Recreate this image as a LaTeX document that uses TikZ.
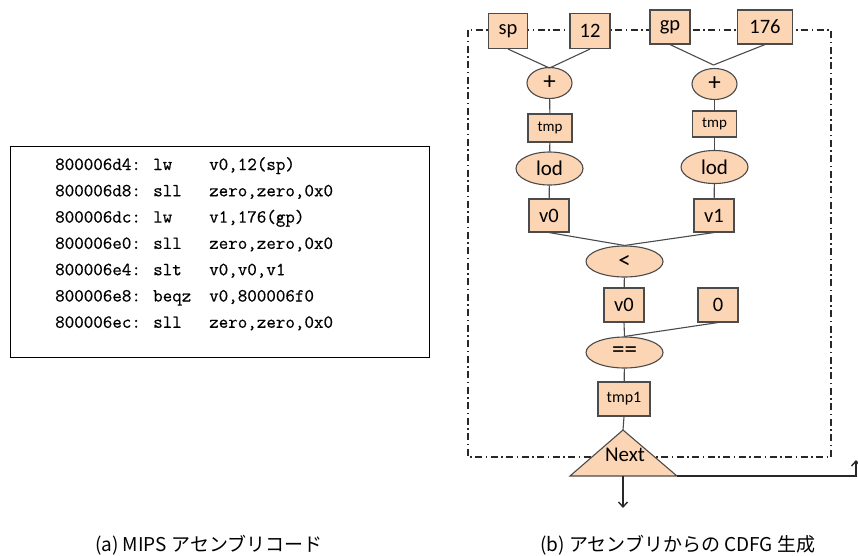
\documentclass[tikz,border=0pt]{standalone}
\usepackage{fontspec}
\setmainfont{Carlito}
\newfontfamily\cjk{Noto Sans CJK JP}
\newfontfamily\codefont[FakeBold=0.5]{Latin Modern Mono}
\usetikzlibrary{arrows.meta,shapes.geometric}
\definecolor{peach}{RGB}{252,213,181}
\definecolor{edgegray}{RGB}{75,75,75}
\definecolor{framegray}{RGB}{40,40,40}
\tikzset{
  vbox/.style={draw=edgegray, fill=peach, line width=1.1pt, inner sep=0pt,
               font=\fontsize{20.5}{20.5}\selectfont},
  obox/.style={draw=edgegray, fill=peach, line width=1.1pt, ellipse, inner sep=0pt,
               font=\fontsize{25}{25}\selectfont},
  link/.style={draw=edgegray, line width=1.1pt},
  codeline/.style={anchor=base west, inner sep=0pt,
                   font=\codefont\fontsize{18.5}{18.5}\selectfont},
  caption/.style={inner sep=0pt, anchor=west, font=\cjk\fontsize{19}{19}\selectfont},
}
\begin{document}
\begin{tikzpicture}[x=1pt,y=-1pt]
\useasboundingbox (0,0) rectangle (858,555);

% assembly listing
\draw[black, line width=0.8pt] (10,146) rectangle (429,357);
\foreach \addr/\op/\args [count=\i] in {
  800006d4:/lw/{v0,12(sp)},
  800006d8:/sll/{zero,zero,0x0},
  800006dc:/lw/{v1,176(gp)},
  800006e0:/sll/{zero,zero,0x0},
  800006e4:/slt/{v0,v0,v1},
  800006e8:/beqz/{v0,800006f0},
  800006ec:/sll/{zero,zero,0x0}} {
  \node[codeline] (addr\i) at (55,{170+26.3*(\i-1)}) {\addr};
  \node[codeline] (op\i) at (153,{170+26.3*(\i-1)}) {\op};
  \node[codeline] (arg\i) at (209,{170+26.3*(\i-1)}) {\args};
}

% block frame
\draw[framegray, line width=1.3pt, dash pattern=on 7pt off 3.5pt on 1.5pt off 3.5pt]
  (468,30) rectangle (831,457);

% data-flow nodes
\node[vbox, minimum width=39pt, minimum height=35pt] (sp)  at (508,31) {sp};
\node[vbox, minimum width=40pt, minimum height=35pt] (c12) at (590,31) {12};
\node[vbox, minimum width=40pt, minimum height=34pt] (gp)  at (670,27) {gp};
\node[vbox, minimum width=55pt, minimum height=34pt] (c176) at (765,27) {176};

\node[obox, minimum width=45pt, minimum height=31pt] (addl) at (549.5,83) {+};
\node[obox, minimum width=45pt, minimum height=31pt] (addr) at (714.5,84) {+};

\node[vbox, minimum width=44pt, minimum height=28pt, font=\fontsize{15}{15}\selectfont] (tmpl) at (550,128) {tmp};
\node[vbox, minimum width=44pt, minimum height=26pt, font=\fontsize{15}{15}\selectfont] (tmpr) at (714.5,124) {tmp};

\node[obox, minimum width=67pt, minimum height=33pt, font=\fontsize{21}{21}\selectfont] (lodl) at (549.5,168.5) {lod};
\node[obox, minimum width=67pt, minimum height=33pt, font=\fontsize{21}{21}\selectfont] (lodr) at (714.5,167) {lod};

\node[vbox, minimum width=40pt, minimum height=33pt] (v0a) at (549,215.5) {v0};
\node[vbox, minimum width=40pt, minimum height=33pt] (v1)  at (714,215.5) {v1};

\node[obox, minimum width=77pt, minimum height=31pt] (lt) at (624.5,261.5) {<};

\node[vbox, minimum width=40pt, minimum height=34pt] (v0b) at (624,305) {v0};
\node[vbox, minimum width=40pt, minimum height=34pt] (zero) at (718,305) {0};

\node[obox, minimum width=77pt, minimum height=31pt] (eq) at (624.5,352.5) {==};

\node[vbox, minimum width=52pt, minimum height=34pt, font=\fontsize{16}{16}\selectfont] (tmpa) at (624,399) {tmp1};

% branch node
\coordinate (apex) at (623,430);
\coordinate (bl) at (570,476);
\coordinate (br) at (677,476);
\coordinate (bm) at (623,476);
\draw[edgegray, fill=peach, line width=1.1pt] (apex) -- (br) -- (bl) -- cycle;
\node[inner sep=0pt, font=\fontsize{21}{21}\selectfont] (next) at (625,455) {Next};

% connectors
\coordinate (joinl) at (549.5,68);
\coordinate (joinr) at (713.5,65);
\draw[link] (sp.south) -- (joinl);
\draw[link] (c12.south) -- (joinl);
\draw[link] (gp.south) -- (joinr);
\draw[link] (c176.south) -- (joinr);
\draw[link] (addl) -- (tmpl);
\draw[link] (addr) -- (tmpr);
\draw[link] (tmpl) -- (lodl);
\draw[link] (tmpr) -- (lodr);
\draw[link] (lodl) -- (v0a);
\draw[link] (lodr) -- (v1);
\draw[link] (v0a.south) -- (lt.north);
\draw[link] (v1.south) -- (lt.north);
\draw[link] (lt) -- (v0b);
\draw[link] (v0b.south) -- (eq.north);
\draw[link] (zero.south) -- (eq.north);
\draw[link] (eq) -- (tmpa);
\draw[link] (tmpa.south) -- (apex);

% control-flow exits
\coordinate (down) at (623,508);
\coordinate (loopc) at (856,476);
\coordinate (loopt) at (856,460);
\draw[framegray, line width=1.4pt, -{Straight Barb[length=5pt,width=9pt]}] (bm) -- (down);
\draw[framegray, line width=1.4pt, -{Straight Barb[length=5pt,width=9pt]}] (br) -- (loopc) -- (loopt);

% captions
\node[caption] (capa) at (95,545) {(a) MIPS アセンブリコード};
\node[caption] (capb) at (540,545) {(b) アセンブリからの CDFG 生成};
\end{tikzpicture}
\end{document}
